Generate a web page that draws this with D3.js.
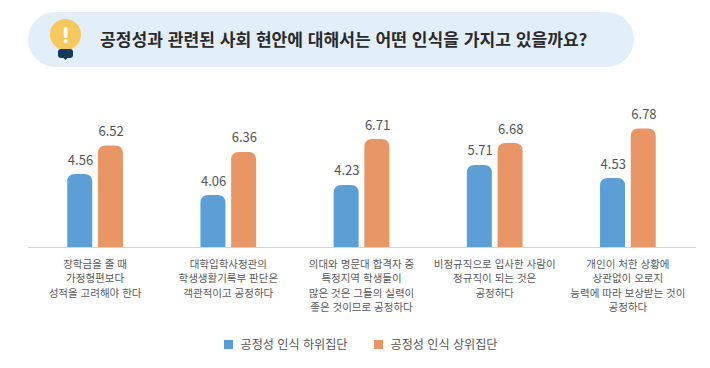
<!DOCTYPE html>
<html lang="ko">
<head>
  <meta charset="UTF-8">
  <script src="https://d3js.org/d3.v7.min.js"></script>
  <title>공정성 인식</title>
  <style>
    html, body { margin: 0; padding: 0; background: #fff; }
    svg { display: block; }
    text { font-family: "Noto Sans CJK KR", "Noto Sans", sans-serif; }
  </style>
</head>
<body>
<div id="chart"></div>
<script>
  const categories = [
    ["장학금을 줄 때", "가정형편보다", "성적을 고려해야 한다"],
    ["대학입학사정관의", "학생생활기록부 판단은", "객관적이고 공정하다"],
    ["의대와 명문대 합격자 중", "특정지역 학생들이", "많은 것은 그들의 실력이", "좋은 것이므로 공정하다"],
    ["비정규직으로 입사한 사람이", "정규직이 되는 것은", "공정하다"],
    ["개인이 처한 상황에", "상관없이 오로지", "능력에 따라 보상받는 것이", "공정하다"]
  ];
  const seriesNames = ["공정성 인식 하위집단", "공정성 인식 상위집단"];
  const seriesColors = ["#5b9fd6", "#e99666"];

  // printed numbers
  const lowerLabels = ["4.56", "4.06", "4.23", "5.71", "4.53"];
  const upperLabels = ["6.52", "6.36", "6.71", "6.68", "6.78"];
  // the bars in the original don't follow the printed numbers exactly,
  // so these are the lengths read off the bars themselves
  const lowerBars = [4.59, 3.28, 3.91, 5.16, 4.34];
  const upperBars = [6.38, 5.97, 6.78, 6.53, 7.44];

  const title = "공정성과 관련된 사회 현안에 대해서는 어떤 인식을 가지고 있을까요?";

  const width = 710, height = 368;
  const baseY = 247.5;
  const barW = 25, barGap = 5.7;

  const svg = d3.select("#chart").append("svg")
    .attr("width", width).attr("height", height);

  // title pill
  svg.append("rect")
    .attr("x", 28).attr("y", 12).attr("width", 606).attr("height", 55)
    .attr("rx", 27.5).attr("fill", "#e3eff8");

  svg.append("text")
    .attr("x", 100).attr("y", 45.5)
    .attr("font-size", 17.1).attr("font-weight", 700)
    .attr("fill", "#2b2b2b")
    .text(title);

  // bulb icon
  const icon = svg.append("g");
  icon.append("circle").attr("cx", 65.5).attr("cy", 34.5).attr("r", 15.5).attr("fill", "#f7c85c");
  icon.append("rect").attr("x", 63.7).attr("y", 27).attr("width", 3.8).attr("height", 11).attr("rx", 1.9).attr("fill", "#fff");
  icon.append("circle").attr("cx", 65.6).attr("cy", 41.2).attr("r", 2).attr("fill", "#fff");
  icon.append("rect").attr("x", 58).attr("y", 49).attr("width", 15).attr("height", 9).attr("rx", 3).attr("fill", "#17395c");
  icon.append("path").attr("d", "M62.5 57 L68.5 57 L65.5 60 Z").attr("fill", "#17395c");

  // scales
  const x = d3.scaleBand()
    .domain(d3.range(categories.length))
    .range([28.5, 694.5]);
  const y = d3.scaleLinear().domain([0, 8]).range([baseY, baseY - 128]);

  // top-rounded bar shape
  function barPath(x0, top, w, r) {
    return `M${x0} ${baseY} V${top + r} Q${x0} ${top} ${x0 + r} ${top} H${x0 + w - r} Q${x0 + w} ${top} ${x0 + w} ${top + r} V${baseY} Z`;
  }

  const groups = svg.append("g").selectAll("g")
    .data(categories)
    .enter().append("g")
    .attr("transform", (d, i) => `translate(${x(i) + x.bandwidth() / 2},0)`);

  const series = [
    { bars: lowerBars, labels: lowerLabels, x0: -barW - barGap / 2, color: seriesColors[0] },
    { bars: upperBars, labels: upperLabels, x0: barGap / 2, color: seriesColors[1] }
  ];

  series.forEach(s => {
    groups.append("path")
      .attr("d", (d, i) => barPath(s.x0, y(s.bars[i]), barW, 8))
      .attr("fill", s.color);
    groups.append("text")
      .attr("x", s.x0 + barW / 2 + 0.7)
      .attr("y", (d, i) => y(s.bars[i]) - 9.5)
      .attr("text-anchor", "middle")
      .attr("font-size", 13)
      .attr("fill", "#555")
      .text((d, i) => s.labels[i]);
  });

  // baseline
  svg.append("line")
    .attr("x1", 28).attr("x2", 696).attr("y1", baseY).attr("y2", baseY)
    .attr("stroke", "#d4d4d4").attr("stroke-width", 1);

  // category labels
  groups.each(function (lines) {
    d3.select(this).selectAll("text.cat")
      .data(lines)
      .enter().append("text")
      .attr("class", "cat")
      .attr("y", (d, i) => 267.5 + i * 14.5)
      .attr("text-anchor", "middle")
      .attr("font-size", 10.5)
      .attr("fill", "#5a5a5a")
      .text(d => d);
  });

  // legend
  const legendX = [224, 374];
  seriesNames.forEach((name, i) => {
    svg.append("rect")
      .attr("x", legendX[i]).attr("y", 340).attr("width", 9).attr("height", 9)
      .attr("fill", seriesColors[i]);
    svg.append("text")
      .attr("x", legendX[i] + 16.5).attr("y", 349)
      .attr("font-size", 12.1)
      .attr("fill", "#555")
      .text(name);
  });
</script>
</body>
</html>
